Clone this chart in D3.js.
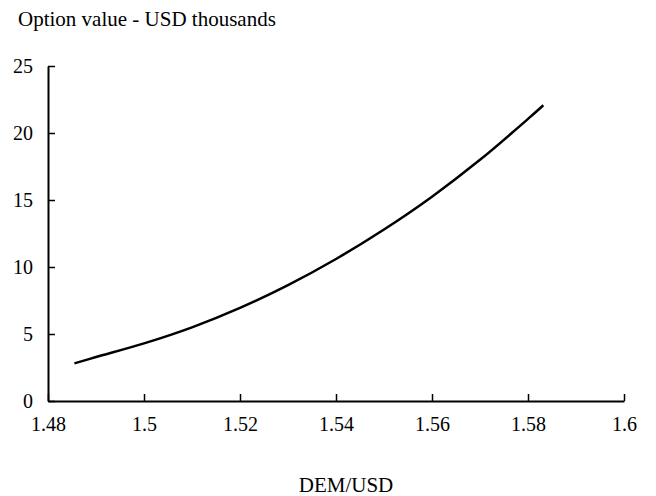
<!DOCTYPE html>
<html>
<head>
<meta charset="utf-8">
<script src="https://cdn.jsdelivr.net/npm/d3@7"></script>
<style>
  body { margin: 0; background: #fff; }
  svg text { font-family: "Liberation Serif", "Times New Roman", serif; fill: #000; }
</style>
</head>
<body>
<svg width="656" height="496"></svg>
<script>
// exchange rate (DEM per USD) and option value, USD thousands
const rates = [1.4855, 1.49, 1.50, 1.51, 1.52, 1.53, 1.54, 1.55, 1.56, 1.57, 1.58, 1.5832];
const values = [2.81, 3.28, 4.3, 5.5, 6.95, 8.65, 10.6, 12.8, 15.25, 18.0, 21.05, 22.07];
const xTicks = [1.48, 1.5, 1.52, 1.54, 1.56, 1.58, 1.6];
const yTicks = [0, 5, 10, 15, 20, 25];

const svg = d3.select('svg');
const plotLeft = 48, plotRight = 624, plotTop = 66, plotBottom = 401;

const x = d3.scaleLinear().domain([1.48, 1.6]).range([plotLeft, plotRight]);
const y = d3.scaleLinear().domain([0, 25]).range([plotBottom, plotTop]);

svg.append('g')
  .attr('transform', `translate(0,${plotBottom})`)
  .call(d3.axisBottom(x)
    .tickValues(xTicks)
    .tickFormat(d3.format('~g'))
    .tickSizeInner(-7)
    .tickSizeOuter(0)
    .tickPadding(16));

svg.append('g')
  .attr('transform', `translate(${plotLeft},0)`)
  .call(d3.axisLeft(y)
    .tickValues(yTicks)
    .tickSizeInner(-7)
    .tickSizeOuter(0)
    .tickPadding(15));

svg.selectAll('.domain').attr('stroke', '#000').attr('stroke-width', 2);
svg.selectAll('.tick line').attr('stroke', '#000').attr('stroke-width', 1.5);
svg.selectAll('g[font-size]').attr('font-size', 20);
svg.selectAll('.tick text')
  .attr('font-family', '"Liberation Serif", serif')
  .attr('fill', '#000');

const line = d3.line()
  .x((d, i) => x(rates[i]))
  .y(d => y(d))
  .curve(d3.curveCatmullRom);

svg.append('path')
  .datum(values)
  .attr('fill', 'none')
  .attr('stroke', '#000')
  .attr('stroke-width', 2.5)
  .attr('d', line);

svg.append('text')
  .attr('x', 18)
  .attr('y', 26)
  .attr('font-size', 21)
  .text('Option value - USD thousands');

svg.append('text')
  .attr('x', 346)
  .attr('y', 492)
  .attr('text-anchor', 'middle')
  .attr('font-size', 21)
  .text('DEM/USD');
</script>
</body>
</html>
